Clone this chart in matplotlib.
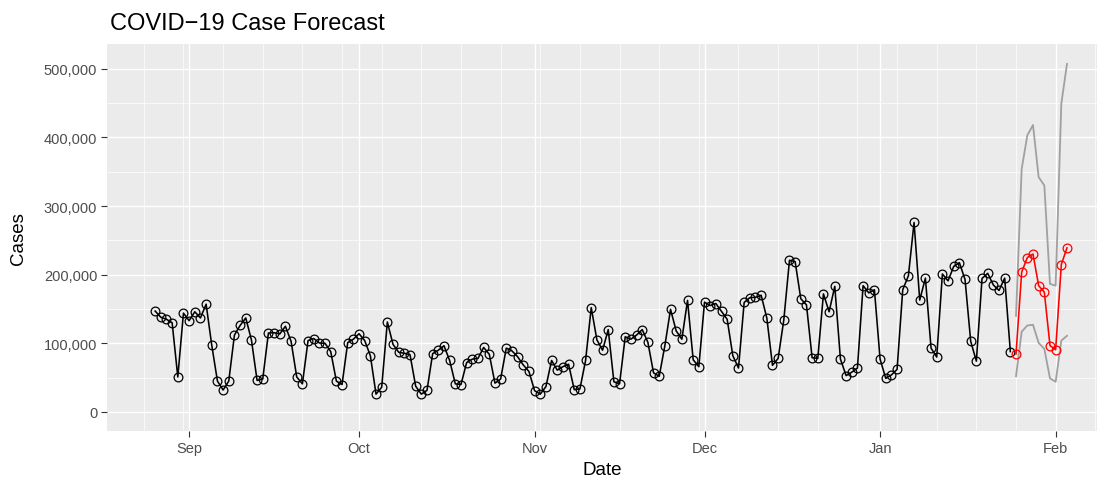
import datetime
import numpy as np
import matplotlib
matplotlib.use('Agg')
import matplotlib.pyplot as plt
import matplotlib.dates as mdates
from matplotlib.ticker import FuncFormatter, MultipleLocator

plt.rcParams['font.family'] = ['Liberation Sans', 'DejaVu Sans']

# observed daily cases, one value per day starting 2020-08-26 (thousands)
start_obs = datetime.date(2020, 8, 26)
cases_k = [
    147, 138, 135, 130, 51, 144, 133, 146, 137, 157, 97, 45, 32, 45, 112, 126, 137, 105, 46, 48,
    115, 115.5, 113.6, 124.8, 103, 51, 41, 104, 107, 100.5, 100, 88, 45, 40, 101, 106, 114, 104, 82, 26, 36,
    131, 98.5, 87, 85.5, 83.5, 37.5, 26, 31.5, 85, 90, 96.5, 75, 41, 40, 72, 77, 78, 94, 84, 42, 48,
    93, 89, 80.5, 68.5, 59, 31, 26, 37, 75, 61, 66, 69.5, 32.5, 33.5, 75, 152, 105, 90, 120, 44, 41,
    109.5, 106, 112, 120, 101.5, 57, 52, 96.5, 149.5, 118, 106, 162.5, 76, 66, 160, 155, 158, 146.5, 135, 82, 64, 159.5,
    166.5, 167, 170, 137, 68, 78, 134, 221, 219, 165, 156, 79, 78, 172, 146, 183, 77, 53, 58, 64, 184,
    173.5, 178, 77, 49, 54, 62, 178, 198.5, 276, 163, 195, 93, 80, 201, 191, 212, 217.5, 193, 103, 74, 194.5, 202, 185, 177, 195, 88,
]

# forecast with upper / lower bounds, starting 2021-01-25 (thousands)
start_fc = datetime.date(2021, 1, 25)
forecast_k = [84.5, 203.6, 225, 230, 184, 174.5, 96.7, 90.8, 214.8, 239]
upper_k = [140, 354, 403, 418, 342, 330, 186.6, 184, 449, 507]
lower_k = [52, 117, 126, 127, 100.6, 92, 49, 44, 104, 111]

obs_dates = [start_obs + datetime.timedelta(days=i) for i in range(len(cases_k))]
fc_dates = [start_fc + datetime.timedelta(days=i) for i in range(len(forecast_k))]
cases = np.array(cases_k) * 1000
forecast = np.array(forecast_k) * 1000
upper = np.array(upper_k) * 1000
lower = np.array(lower_k) * 1000

W, H = 1104, 481
fig = plt.figure(figsize=(W / 100, H / 100), dpi=100)
ax = fig.add_axes([107 / W, (H - 432) / H, (1097 - 107) / W, (432 - 45) / H])
ax.set_facecolor('#EBEBEB')
for s in ax.spines.values():
    s.set_visible(False)

# ggplot-like grid: monthly major, weekly (Monday) minor
ax.xaxis.set_major_locator(mdates.MonthLocator())
ax.xaxis.set_major_formatter(mdates.DateFormatter('%b'))
ax.xaxis.set_minor_locator(mdates.WeekdayLocator(byweekday=mdates.MO))
ax.yaxis.set_major_locator(MultipleLocator(100000))
ax.yaxis.set_minor_locator(MultipleLocator(50000))
ax.yaxis.set_major_formatter(FuncFormatter(lambda v, p: f'{int(v):,}'))
ax.grid(which='major', color='white', linewidth=1.0)
ax.grid(which='minor', color='white', linewidth=0.5)
ax.set_axisbelow(True)
ax.tick_params(which='major', length=4, width=0.8, color='#333333',
               labelcolor='#4D4D4D', labelsize=10.5, pad=3)
ax.tick_params(which='minor', length=0)

ax.plot(fc_dates, upper, color='#A0A0A0', linewidth=1.3)
ax.plot(fc_dates, lower, color='#A0A0A0', linewidth=1.3)
ax.plot(obs_dates, cases, color='black', linewidth=1.15, marker='o',
        markersize=6.3, markerfacecolor='none', markeredgewidth=0.9)
ax.plot(fc_dates, forecast, color='red', linewidth=1.15, marker='o',
        markersize=6.3, markerfacecolor='none', markeredgewidth=0.9)

sep1 = mdates.date2num(datetime.date(2020, 9, 1))
ax.set_xlim(sep1 - 14.5, sep1 + 160.3)
ax.set_ylim(-27700, 536000)

ax.set_xlabel('Date', fontsize=13.5, labelpad=4.5)
ax.set_ylabel('Cases', fontsize=13.5, labelpad=12)
fig.text(110 / W, 1 - 24 / H, 'COVID\u221219 Case Forecast', fontsize=17,
         ha='left', va='center')

fig.savefig('out.png', dpi=100)
